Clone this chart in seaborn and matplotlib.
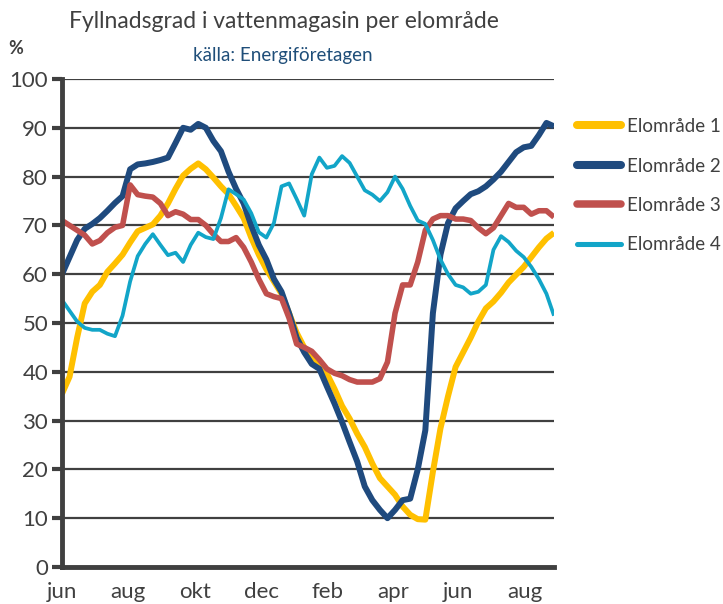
import numpy as np
import pandas as pd
import matplotlib
matplotlib.use("Agg")
import matplotlib.pyplot as plt
import seaborn as sns
from matplotlib.lines import Line2D

# --- data (weekly, June to end of August the following year) ---
elomrade_1 = [35.5, 39, 47, 54, 56.4, 57.8, 60.5, 62.2, 64, 66.5, 68.8, 69.5, 70.2, 72, 74.5, 77.5,
              80.2, 81.6, 82.7, 81.5, 79.8, 78, 76.4, 74, 71.5, 67.5, 64, 61, 58.5, 56, 52, 48,
              45, 43, 41.5, 39.6, 36.5, 33, 30.4, 27.3, 24.6, 21.2, 18.2, 16.5, 14.8, 12.4, 10.7, 9.8,
              9.7, 19.5, 28.4, 35, 41, 44, 47, 50.3, 53, 54.4, 56.2, 58.3, 59.9, 61.5, 63.5, 65.5,
              67.3, 68.5]
elomrade_2 = [60, 63.5, 67, 69.3, 70.3, 71.5, 73, 74.6, 76, 81.5, 82.5, 82.7, 83, 83.4, 83.9, 86.9,
              90, 89.6, 90.8, 90, 87.3, 85.2, 81, 77.5, 74.5, 70, 66, 63, 59, 56.4, 52, 47,
              44, 41.6, 40.6, 37, 33.5, 29.7, 25.6, 21.6, 16.5, 13.7, 11.7, 10, 11.7, 13.7, 14, 20,
              28, 52, 64, 70.5, 73.5, 75, 76.4, 77, 78, 79.4, 81, 83, 85, 86, 86.3, 88.5,
              91, 90.3]
elomrade_3 = [71, 70, 69, 68, 66.2, 66.9, 68.5, 69.6, 70, 78.3, 76.3, 76, 75.8, 74.5, 72, 72.8,
              72.3, 71.2, 71.2, 70, 68.2, 66.7, 66.7, 67.5, 65.5, 62.5, 59, 56, 55.4, 55, 51, 45.7,
              45, 44.2, 42.5, 40.6, 39.7, 39.2, 38.4, 37.9, 37.9, 37.9, 38.6, 42, 52, 57.8, 57.8, 62.5,
              69, 71.3, 72, 72, 71.3, 71.3, 71, 69.5, 68.3, 69.5, 72, 74.5, 73.7, 73.7, 72.3, 73,
              73, 71.7]
elomrade_4 = [54.7, 52.5, 50.3, 49, 48.6, 48.6, 47.8, 47.3, 51.5, 58.5, 63.7, 66.2, 68.2, 66, 63.9, 64.4,
              62.5, 66, 68.5, 67.6, 67.2, 71.5, 77.4, 76.4, 75.3, 72.5, 68.6, 67.5, 70.5, 78, 78.6, 75.4,
              72, 80.5, 83.9, 81.8, 82.2, 84.2, 82.8, 80, 77.2, 76.3, 75, 76.8, 80, 77.5, 74, 71,
              70.3, 67, 63, 60, 57.8, 57.3, 56, 56.4, 57.8, 65, 67.8, 66.6, 64.8, 63.5, 61.5, 59,
              56, 51.5]
series_names = ["Elområde 1", "Elområde 2", "Elområde 3", "Elområde 4"]
month_labels = ["jun", "aug", "okt", "dec", "feb", "apr", "jun", "aug"]
month_positions = [0, 8.7, 17.6, 26.4, 35.1, 43.7, 52.3, 61.2]
y_ticks = list(range(0, 101, 10))

weeks = np.arange(len(elomrade_1))
df = pd.concat([
    pd.DataFrame({"week": weeks, "value": vals, "area": name})
    for name, vals in zip(series_names, [elomrade_1, elomrade_2, elomrade_3, elomrade_4])
])

colors = ["#FFC000", "#1F4A7E", "#C0504D", "#12A5C8"]
widths = [4.3, 4.3, 4.0, 2.7]

sns.set_theme(style="white")
plt.rcParams["font.family"] = ["Lato", "DejaVu Sans"]

fig = plt.figure(figsize=(7.23, 6.04), dpi=100)
ax = fig.add_axes([62/723, 1-567/604, (554-62)/723, (567-79)/604])

sns.lineplot(data=df, x="week", y="value", hue="area", palette=colors,
             ax=ax, legend=False, sort=False)
for line, lw in zip(ax.get_lines(), widths):
    line.set_linewidth(lw)
    line.set_solid_joinstyle("round")
    line.set_solid_capstyle("butt")

ax.set_xlim(0, len(weeks) - 1)
ax.set_ylim(0, 100)
ax.set_yticks(y_ticks)
ax.set_xticks(month_positions)
ax.set_xticklabels(month_labels)
ax.set_xlabel("")
ax.set_ylabel("")
ax.set_axisbelow(True)
ax.yaxis.grid(True, color="#404040", linewidth=1.6)
ax.xaxis.grid(False)
for side in ["top", "right"]:
    ax.spines[side].set_visible(False)
for side in ["left", "bottom"]:
    ax.spines[side].set_color("#404040")
    ax.spines[side].set_linewidth(3.5)
ax.tick_params(axis="y", which="major", left=True, length=7, width=3, color="#404040",
               labelsize=16, labelcolor="#404040", pad=3)
ax.tick_params(axis="x", which="major", bottom=False, labelsize=16, labelcolor="#404040", pad=5)

fig.text(284/723, 1-22/604, "Fyllnadsgrad i vattenmagasin per elområde", ha="center", va="center",
         fontsize=16.5, color="#404040")
fig.text(283/723, 1-55/604, "källa: Energiföretagen", ha="center", va="center",
         fontsize=13.5, color="#1F4E79")
fig.text(16/723, 1-49/604, "%", ha="center", va="center", fontsize=13, fontweight="bold",
         color="#404040")

handles = [Line2D([0], [0], color=c, lw=lw * 1.35, solid_capstyle="round") for c, lw in zip(colors, widths)]
leg = fig.legend(handles, series_names, loc="upper left", bbox_to_anchor=(577/723, 1-118/604),
                 frameon=False, fontsize=13.5, handlelength=2.35, handletextpad=0.3,
                 labelspacing=1.2, borderpad=0, borderaxespad=0, labelcolor="#404040")

fig.savefig("out.png", dpi=100)
